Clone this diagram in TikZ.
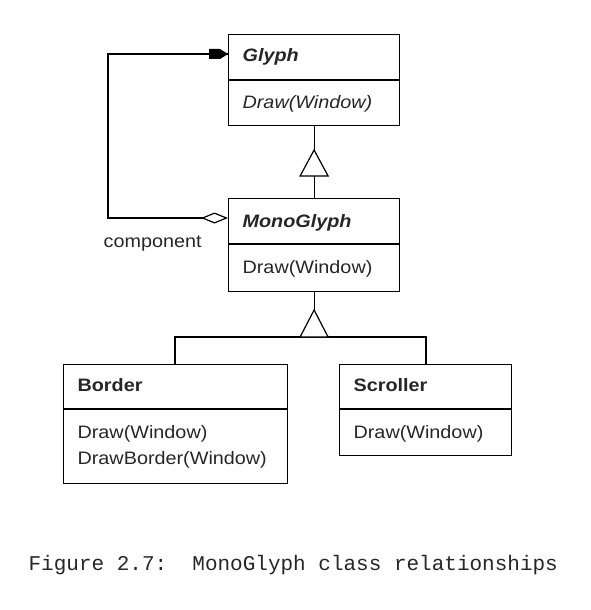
\documentclass[tikz,border=0pt]{standalone}
\usepackage{fontspec}
\setmainfont{Liberation Sans}[FakeStretch=1.1]
\setmonofont{Liberation Mono}
\usetikzlibrary{arrows.meta}
\begin{document}
\begin{tikzpicture}[x=1pt,y=-1pt,
  line width=1.2pt,
  box/.style={draw, anchor=north west, inner sep=0pt},
  lbl/.style={anchor=base west, inner sep=0pt, text=black!85, font=\fontsize{18}{20}\selectfont},
  cls/.style={lbl, font=\fontsize{18}{20}\selectfont\bfseries},
  abs/.style={lbl, font=\fontsize{18}{20}\selectfont\bfseries\itshape},
  tri/.style={draw, fill=white, line join=miter}]
\useasboundingbox (0,0) rectangle (591,610);

% boxes
\node[box, minimum width=171pt, minimum height=91pt] (glyph) at (228,34) {};
\node[box, minimum width=171pt, minimum height=93pt] (mono) at (228,198) {};
\node[box, minimum width=224pt, minimum height=119pt] (border) at (63,364) {};
\node[box, minimum width=172pt, minimum height=91pt] (scroller) at (339,364) {};

\draw (228,80) -- (399,80);
\draw (228,244) -- (399,244);
\draw (63,409) -- (287,409);
\draw (339,409) -- (511,409);

% texts
\node[abs] (tglyph) at (242,62) {Glyph};
\node[lbl, font=\fontsize{18}{20}\selectfont\itshape] (tgdraw) at (242,108) {Draw(Window)};
\node[abs] (tmono) at (242,227) {MonoGlyph};
\node[lbl] (tmdraw) at (242,273) {Draw(Window)};
\node[cls] (tborder) at (77,391) {Border};
\node[lbl] (tbdraw) at (77,438) {Draw(Window)};
\node[lbl] (tbdb) at (77,464) {DrawBorder(Window)};
\node[cls] (tscroll) at (353,391) {Scroller};
\node[lbl] (tsdraw) at (353,438) {Draw(Window)};
\node[lbl] (tcomp) at (103,247) {component};

% inheritance Glyph <- MonoGlyph
\coordinate (apex1) at (glyph.south |- 0,150);
\coordinate (base1) at (glyph.south |- 0,176);
\draw (glyph.south) -- (apex1);
\draw (base1) -- (mono.north);
\draw[tri] (apex1) -- ++(14,26) -- ++(-28,0) -- cycle;

% inheritance MonoGlyph <- Border, Scroller
\coordinate (apex2) at (mono.south |- 0,310);
\coordinate (base2) at (mono.south |- 0,337);
\draw (mono.south) -- (apex2);
\draw (border.north -| 175,0) |- (base2) -| (scroller.north -| 426,0);
\draw[tri] (apex2) -- ++(14,27) -- ++(-28,0) -- cycle;

% aggregation
\coordinate (c1) at (108,218);
\coordinate (c2) at (108,54);
\draw[{Diamond[open,length=27pt,width=11pt,line width=1.2pt]}-] (mono.west |- 0,218) -- (c1) -- (c2) -- (glyph.west |- 0,54);
\fill (209,49) -- (220,49) -- (228,54) -- (220,59) -- (209,59) -- cycle;

% caption
\node[anchor=base west, inner sep=0pt, text=black!85, font=\ttfamily\fontsize{21}{24}\selectfont] (cap) at (28,570) {Figure 2.7:\ \ MonoGlyph class relationships};
\end{tikzpicture}
\end{document}
